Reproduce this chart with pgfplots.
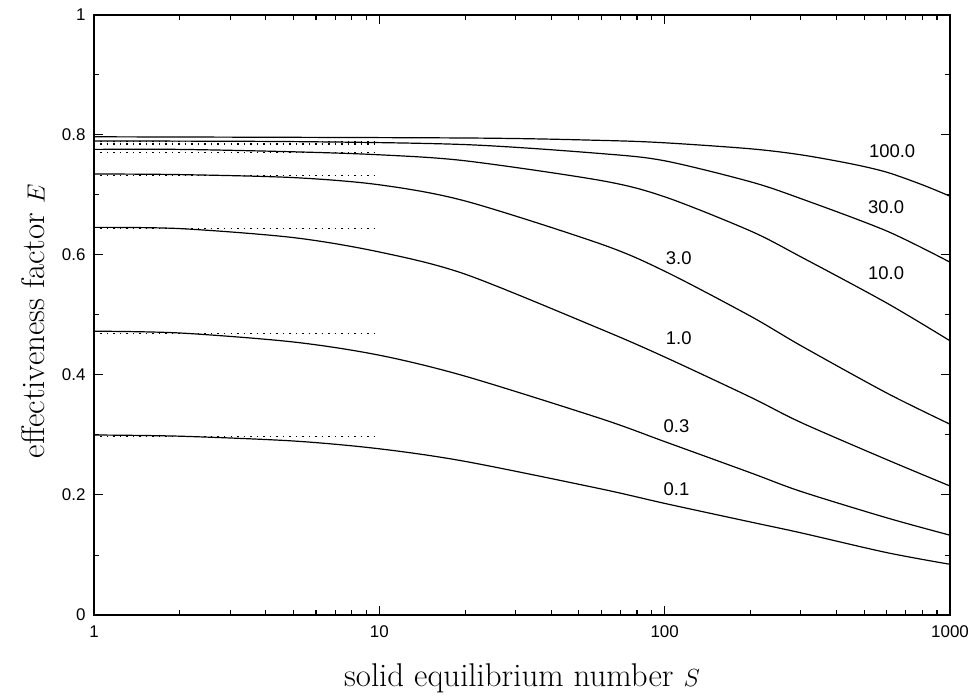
\documentclass[border=0pt]{standalone}
\usepackage{fontspec}
\newfontfamily\helv{Liberation Sans}
\usepackage{pgfplots}
\pgfplotsset{compat=1.18}
\begin{document}
\begin{tikzpicture}
\begin{axis}[
    name=ax,
    width=856bp, height=600bp, scale only axis,
    xmode=log, xmin=1, xmax=1000, ymin=0, ymax=1,
    xmajorticks=true, xminorticks=true,
    xtick={1,10,100,1000}, xticklabels={1,10,100,1000},
    minor xtick={2,3,4,5,6,7,8,9,20,30,40,50,60,70,80,90,200,300,400,500,600,700,800,900},
    ytick={0,0.2,0.4,0.6,0.8,1}, yticklabels={0,0.2,0.4,0.6,0.8,1},
    minor ytick={0.1,0.3,0.5,0.7,0.9},
    tick align=inside,
    major tick length=9bp, minor tick length=5bp,
    xtick style={draw=black, line width=1.2bp},
    ytick style={draw=black, line width=1bp},
    axis line style={line width=1.2bp},
    /pgf/number format/assume math mode=true,
    every tick label/.append style={font=\helv\fontsize{17}{20}\selectfont},
    xticklabel style={yshift=-7bp},
    yticklabel style={xshift=-5bp},
    xlabel={solid equilibrium number $S$},
    ylabel={effectiveness factor $E$},
    label style={font=\fontsize{33}{36}\selectfont},
    xlabel style={at={(axis description cs:0.5,0)}, anchor=center, yshift=-63bp},
    ylabel style={at={(axis description cs:-0.071,0.49)}, anchor=center},
    curve/.style={black, line width=1.2bp, smooth},
    asym/.style={black, line width=1.2bp, dash pattern=on 1.5bp off 5bp},
]
% solid curves, one per parameter value
\addplot[curve] coordinates {(1,0.300) (2,0.298) (5,0.290) (10,0.277) (20,0.256) (60,0.210) (100,0.186) (200,0.155) (300,0.137) (600,0.104) (1000,0.0845)};
\addplot[curve] coordinates {(1,0.473) (2,0.470) (5,0.455) (10,0.433) (20,0.398) (60,0.327) (100,0.289) (200,0.237) (300,0.206) (600,0.162) (1000,0.133)};
\addplot[curve] coordinates {(1,0.646) (2,0.644) (5,0.629) (10,0.605) (20,0.568) (60,0.476) (100,0.430) (200,0.363) (300,0.321) (600,0.259) (1000,0.215)};
\addplot[curve] coordinates {(1,0.735) (2,0.734) (5,0.729) (10,0.717) (20,0.690) (60,0.618) (100,0.573) (200,0.498) (300,0.449) (600,0.370) (1000,0.318)};
\addplot[curve] coordinates {(1,0.776) (2,0.776) (5,0.772) (10,0.767) (20,0.757) (60,0.724) (100,0.697) (200,0.640) (300,0.597) (600,0.520) (1000,0.457)};
\addplot[curve] coordinates {(1,0.790) (5,0.789) (20,0.784) (60,0.769) (100,0.757) (200,0.722) (300,0.694) (600,0.640) (1000,0.588)};
\addplot[curve] coordinates {(1,0.797) (20,0.795) (60,0.791) (100,0.787) (200,0.777) (300,0.767) (450,0.752) (600,0.738) (800,0.717) (1000,0.698)};
% dotted asymptotes
\addplot[asym] coordinates {(1,0.297) (10,0.297)};
\addplot[asym] coordinates {(1,0.469) (10,0.469)};
\addplot[asym] coordinates {(1,0.644) (10,0.644)};
\addplot[asym] coordinates {(1,0.733) (10,0.733)};
\addplot[asym] coordinates {(1,0.771) (10,0.771)};
\addplot[asym] coordinates {(1,0.785) (10,0.785)};
\addplot[asym] coordinates {(1,0.789) (10,0.789)};
% curve labels
\begin{scope}[every node/.style={font=\helv\fontsize{18.5}{22}\selectfont}]
\node at (axis cs:627,0.773) {100.0};
\node at (axis cs:597,0.680) {30.0};
\node at (axis cs:597,0.570) {10.0};
\node at (axis cs:112,0.595) {3.0};
\node at (axis cs:112,0.461) {1.0};
\node at (axis cs:110,0.314) {0.3};
\node at (axis cs:110,0.2095) {0.1};
\end{scope}
\end{axis}
\pgfresetboundingbox
\path[use as bounding box] ([xshift=-94bp,yshift=-82bp]ax.south west) rectangle ([xshift=23bp,yshift=15bp]ax.north east);
\end{tikzpicture}
\end{document}
